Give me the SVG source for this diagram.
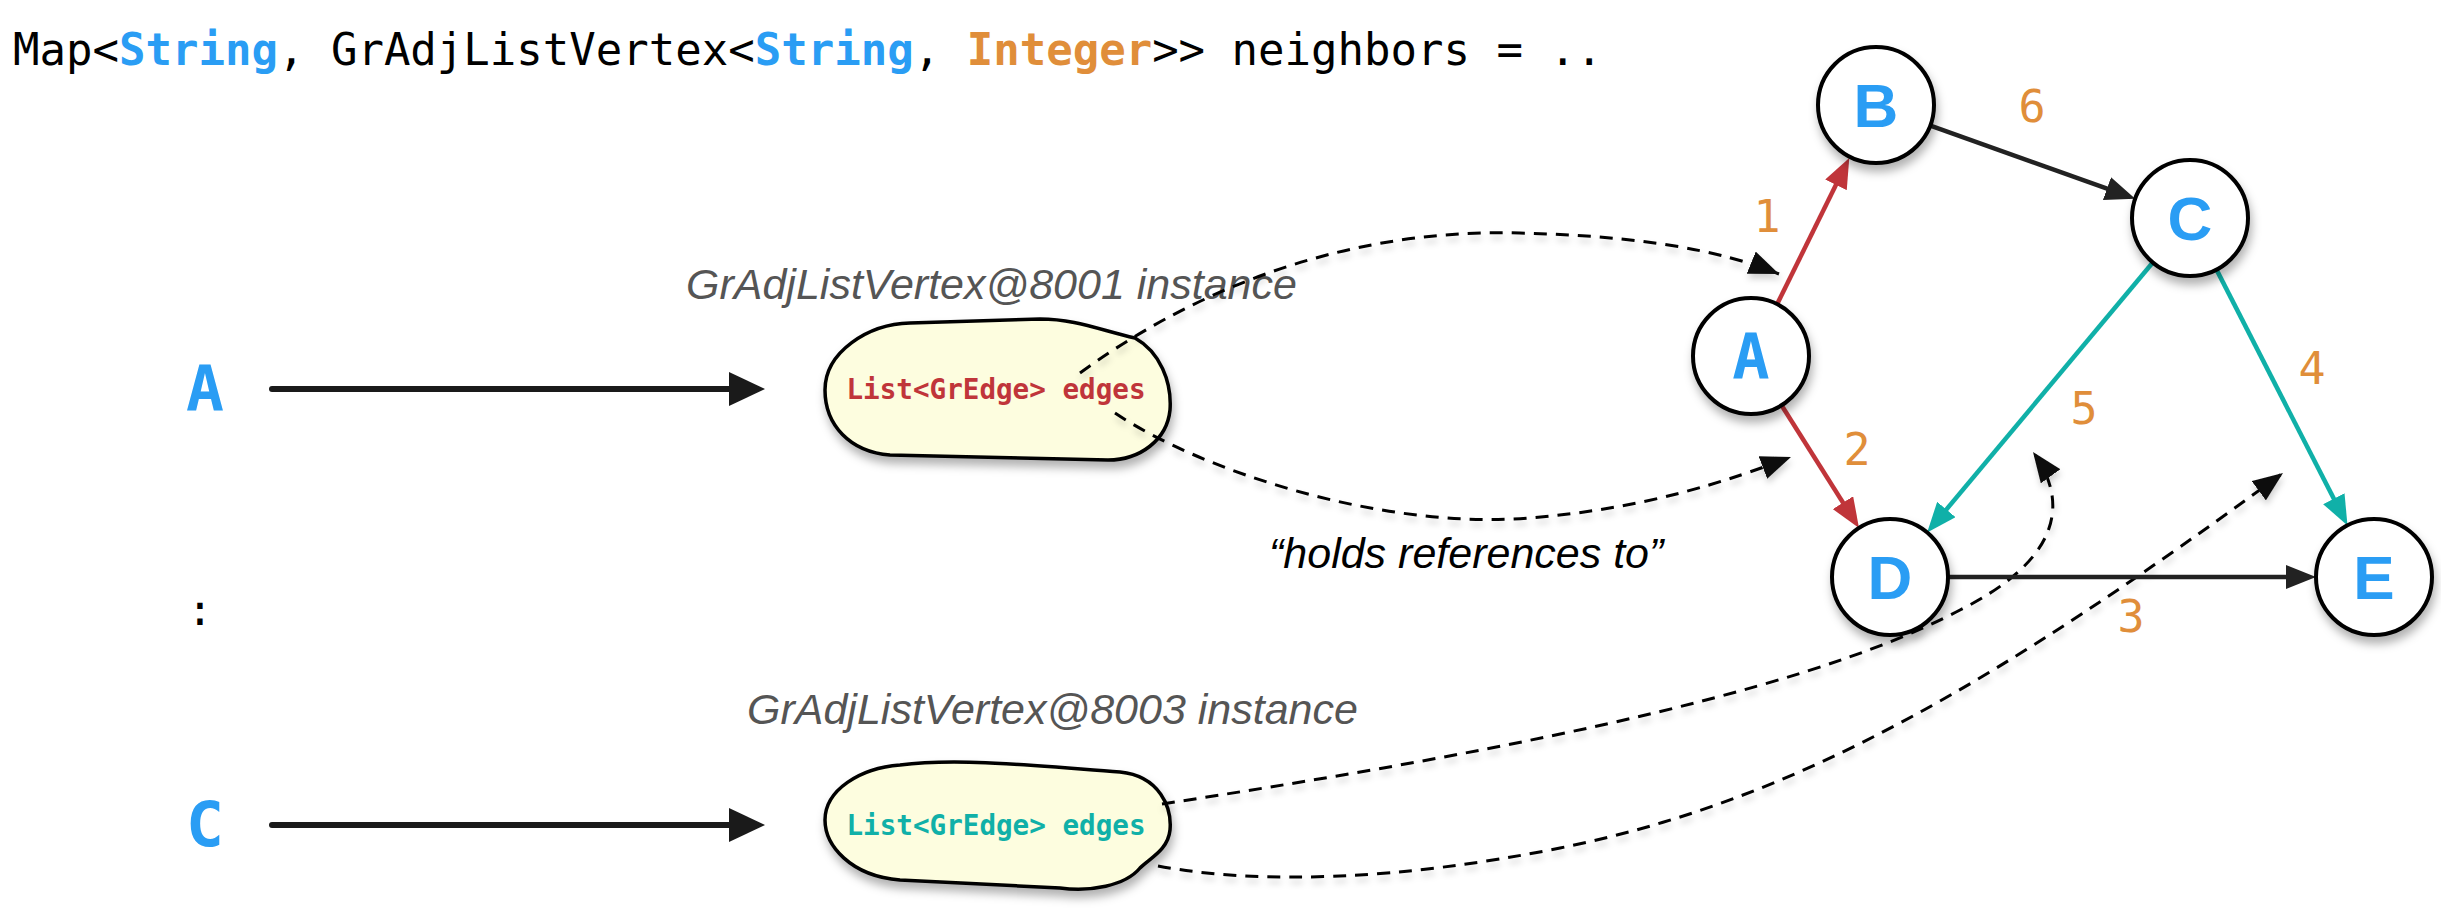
<svg xmlns="http://www.w3.org/2000/svg" width="2441" height="922" viewBox="0 0 2441 922">
<style>
.mono{font-family:"DejaVu Sans Mono","Liberation Mono",monospace}
.sans{font-family:"Liberation Sans",Arial,sans-serif}
.hdr{font-size:44px;fill:#000}
.blue{fill:#2A9DF4;font-weight:bold}
.org{fill:#E08E3A;font-weight:bold}
.lbl{font-size:62px;text-anchor:middle}
.num{font-family:"DejaVu Sans Mono",monospace;font-size:45px;fill:#E08E3A;text-anchor:middle}
.ital{font-family:"Liberation Sans",Arial,sans-serif;font-style:italic;font-size:43px}
.blob{fill:#FDFDDF;stroke:#000;stroke-width:3.5}
.node{fill:#fff;stroke:#000;stroke-width:4}
.dash{fill:none;stroke:#000;stroke-width:3;stroke-dasharray:13 9}
.edge{fill:none;stroke-width:4.5}
.big{fill:none;stroke:#1a1a1a;stroke-width:6;stroke-linecap:round}
</style>
<defs>
<filter id="sh" x="-20%" y="-20%" width="140%" height="150%">
<feDropShadow dx="2" dy="7" stdDeviation="5" flood-color="#000" flood-opacity="0.3"/>
</filter>
<filter id="shd" x="-10%" y="-20%" width="120%" height="150%">
<feDropShadow dx="1" dy="5" stdDeviation="3" flood-color="#000" flood-opacity="0.18"/>
</filter>
<marker id="mBig" markerUnits="userSpaceOnUse" markerWidth="36" markerHeight="34" refX="16" refY="17" orient="auto"><path d="M0,0 L36,17 L0,34 z" fill="#1a1a1a"/></marker>
<marker id="mBlk" markerUnits="userSpaceOnUse" markerWidth="30" markerHeight="24" refX="12" refY="12" orient="auto"><path d="M0,0 L30,12 L0,24 z" fill="#222"/></marker>
<marker id="mRed" markerUnits="userSpaceOnUse" markerWidth="30" markerHeight="24" refX="12" refY="12" orient="auto"><path d="M0,0 L30,12 L0,24 z" fill="#C0353A"/></marker>
<marker id="mTeal" markerUnits="userSpaceOnUse" markerWidth="30" markerHeight="24" refX="12" refY="12" orient="auto"><path d="M0,0 L30,12 L0,24 z" fill="#10B0A8"/></marker>
<marker id="mDash" markerUnits="userSpaceOnUse" markerWidth="30" markerHeight="24" refX="30" refY="12" orient="auto"><path d="M0,0 L30,12 L0,24 z" fill="#111"/></marker>
</defs>
<rect width="2441" height="922" fill="#fff"/>

<text class="mono hdr" x="13" y="65" xml:space="preserve">Map&lt;<tspan class="blue">String</tspan>, GrAdjListVertex&lt;<tspan class="blue">String</tspan>, <tspan class="org">Integer</tspan>&gt;&gt; neighbors = ..</text>

<g id="key-A"><text class="mono blue" x="205" y="410" font-size="63" text-anchor="middle">A</text></g>
<g id="key-dots"><text class="mono" x="200" y="625" font-size="43" text-anchor="middle">:</text></g>
<g id="key-C"><text class="mono blue" x="205" y="846" font-size="63" text-anchor="middle">C</text></g>

<g id="vertex-8001">
<text class="ital" x="686" y="299" fill="#555">GrAdjListVertex@8001 instance</text>
<path class="blob" filter="url(#sh)" d="M910,323 L1040,319 C1075,319 1100,330 1135,338 C1160,352 1172,382 1170,410 C1167,440 1140,460 1108,460 L890,455 C850,452 825,425 825,390 C825,352 868,324 910,323 Z"/>
<text class="mono" x="996" y="399" font-size="27.6" font-weight="bold" fill="#C0353A" text-anchor="middle">List&lt;GrEdge&gt; edges</text>
</g>

<g id="vertex-8003">
<text class="ital" x="747" y="724" fill="#555">GrAdjListVertex@8003 instance</text>
<path class="blob" filter="url(#sh)" d="M900,765 C960,757 1050,767 1120,772 C1160,776 1172,808 1170,830 C1168,850 1150,858 1140,868 C1125,886 1090,892 1060,888 L900,880 C850,876 825,845 825,820 C825,790 860,768 900,765 Z"/>
<text class="mono" x="996" y="835" font-size="27.6" font-weight="bold" fill="#10B0A8" text-anchor="middle">List&lt;GrEdge&gt; edges</text>
</g>

<g id="holds-label"><text class="ital" x="1269" y="568" fill="#000">“holds references to”</text></g>

<g id="connectors">
<line class="big" x1="272" y1="389" x2="745" y2="389" marker-end="url(#mBig)"/>
<line class="big" x1="272" y1="825" x2="745" y2="825" marker-end="url(#mBig)"/>
<g filter="url(#shd)">
<path class="dash" d="M1080,373 C1180,300 1330,228 1520,233 C1640,236 1720,250 1779,274" marker-end="url(#mDash)"/>
<path class="dash" d="M1115,413 C1200,470 1380,530 1530,518 C1650,508 1730,480 1791,457" marker-end="url(#mDash)"/>
<path class="dash" d="M1162,804 C1450,760 1790,700 1960,610 C2050,565 2075,510 2033,452" marker-end="url(#mDash)"/>
<path class="dash" d="M1158,866 C1260,885 1400,880 1560,848 C1800,800 2000,680 2283,473" marker-end="url(#mDash)"/>
</g>
<line class="edge" stroke="#C0353A" x1="1776.7" y1="305" x2="1841.3" y2="174.1" marker-end="url(#mRed)"/>
<line class="edge" stroke="#C0353A" x1="1782" y1="406" x2="1849.4" y2="512.8" marker-end="url(#mRed)"/>
<line class="edge" stroke="#222" x1="1929.7" y1="125.4" x2="2118.3" y2="192.6" marker-end="url(#mBlk)"/>
<line class="edge" stroke="#10B0A8" x1="2152.8" y1="262.5" x2="1938.7" y2="518.7" marker-end="url(#mTeal)"/>
<line class="edge" stroke="#10B0A8" x1="2216.5" y1="269.6" x2="2339.3" y2="509.4" marker-end="url(#mTeal)"/>
<line class="edge" stroke="#222" x1="1948" y1="577" x2="2298" y2="577" marker-end="url(#mBlk)"/>
<text class="num" x="2032" y="122">6</text>
<text class="num" x="1767" y="232">1</text>
<text class="num" x="1857" y="465">2</text>
<text class="num" x="2084" y="424">5</text>
<text class="num" x="2312" y="384">4</text>
<text class="num" x="2131" y="632">3</text>
</g>

<g id="node-B"><circle class="node" filter="url(#sh)" cx="1876" cy="105" r="58"/><text class="sans blue lbl" font-size="61" x="1876" y="127">B</text></g>
<g id="node-C"><circle class="node" filter="url(#sh)" cx="2190" cy="218" r="58"/><text class="sans blue lbl" font-size="61" x="2190" y="240">C</text></g>
<g id="node-A"><circle class="node" filter="url(#sh)" cx="1751" cy="356" r="58"/><text class="mono blue lbl" x="1751" y="378">A</text></g>
<g id="node-D"><circle class="node" filter="url(#sh)" cx="1890" cy="577" r="58"/><text class="sans blue lbl" font-size="61" x="1890" y="599">D</text></g>
<g id="node-E"><circle class="node" filter="url(#sh)" cx="2374" cy="577" r="58"/><text class="sans blue lbl" font-size="61" x="2374" y="599">E</text></g>
</svg>
